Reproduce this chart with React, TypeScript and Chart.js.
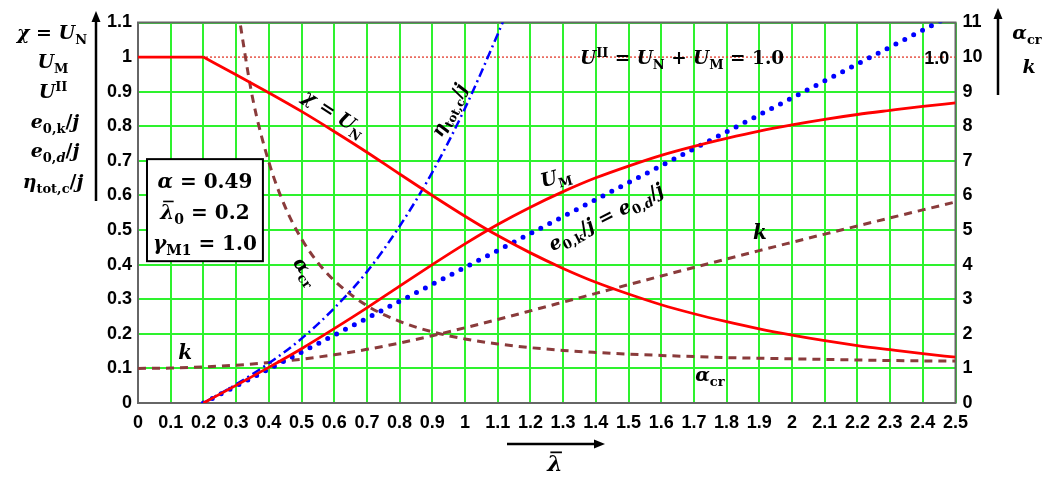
import { useEffect, useRef } from "react";
import { Chart, registerables } from "chart.js";

Chart.register(...registerables);

// Relative slenderness λ̄ sampled every 0.1
const lambda = [0, 0.1, 0.2, 0.3, 0.4, 0.5, 0.6, 0.7, 0.8, 0.9, 1.0, 1.1, 1.2, 1.3, 1.4, 1.5, 1.6, 1.7, 1.8, 1.9, 2.0, 2.1, 2.2, 2.3, 2.4, 2.5];
// χ = U_N (buckling reduction factor)
const chi = [1, 1, 1, 0.949, 0.897, 0.843, 0.785, 0.725, 0.662, 0.6, 0.54, 0.484, 0.434, 0.389, 0.349, 0.315, 0.284, 0.258, 0.235, 0.214, 0.196, 0.18, 0.166, 0.154, 0.1425, 0.1325];
// k amplification factor (right axis)
const kFactor = [1.0, 1.01, 1.042, 1.093, 1.168, 1.267, 1.394, 1.551, 1.735, 1.946, 2.174, 2.415, 2.664, 2.916, 3.169, 3.421, 3.671, 3.919, 4.164, 4.406, 4.645, 4.883, 5.118, 5.351, 5.582, 5.811];

// U_M, from λ̄ = 0.2 onwards
const lambdaM = [0.2, 0.3, 0.4, 0.5, 0.6, 0.7, 0.8, 0.9, 1.0, 1.1, 1.2, 1.3, 1.4, 1.5, 1.6, 1.7, 1.8, 1.9, 2.0, 2.1, 2.2, 2.3, 2.4, 2.5];
const uM = [0, 0.051, 0.103, 0.157, 0.215, 0.275, 0.338, 0.4, 0.46, 0.516, 0.566, 0.611, 0.651, 0.685, 0.716, 0.742, 0.765, 0.786, 0.804, 0.82, 0.834, 0.846, 0.8575, 0.8675];

// η_tot,c / j
const lambdaEta = [0.2, 0.3, 0.4, 0.5, 0.6, 0.7, 0.8, 0.9, 1.0, 1.1, 1.12];
const etaTot = [0, 0.054, 0.115, 0.186, 0.274, 0.379, 0.511, 0.667, 0.852, 1.066, 1.111];

// e0,k / j = e0,d / j
const lambdaE0 = [0.2, 1.0, 2.0, 2.5];
const e0 = [0, 0.392, 0.882, 1.127];

// α_cr (right axis)
const lambdaCr = [0.3, 0.35, 0.4, 0.45, 0.5, 0.55, 0.6, 0.7, 0.8, 0.9, 1.0, 1.1, 1.2, 1.3, 1.4, 1.5, 1.6, 1.7, 1.8, 1.9, 2.0, 2.1, 2.2, 2.3, 2.4, 2.5];
const alphaCr = [11.71, 8.84, 6.97, 5.67, 4.745, 4.06, 3.539, 2.815, 2.36, 2.058, 1.852, 1.708, 1.6, 1.521, 1.462, 1.411, 1.375, 1.341, 1.313, 1.294, 1.276, 1.26, 1.245, 1.228, 1.218, 1.212];

// U^II = U_N + U_M = 1.0
const lambdaUnity = [0, 2.5];
const unity = [1, 1];

const GREEN = "#2ef22e";
const RED = "#ff0000";
const BLUE = "#0000ff";
const BROWN = "#8a3b3b";
const SANS = '"Liberation Sans", Arial, sans-serif';
const SERIF = '"DejaVu Serif", "Liberation Serif", serif';

const pts = (xs: number[], ys: number[]) => xs.map((x, i) => ({ x, y: ys[i] }));
const fmt = (v: number) => String(parseFloat(Number(v).toFixed(2)));

type Seg = { t: string; up?: boolean; sub?: boolean; sup?: boolean; bar?: boolean };

function segFont(s: Seg, size: number) {
  const sz = s.sub || s.sup ? Math.round(size * 0.68) : size;
  return `${s.up ? "" : "italic "}bold ${sz}px ${SERIF}`;
}

function drawRich(
  ctx: CanvasRenderingContext2D,
  segs: Seg[],
  x: number,
  y: number,
  size: number,
  angle = 0,
  color = "#000"
) {
  ctx.save();
  ctx.translate(x, y);
  ctx.rotate((angle * Math.PI) / 180);
  ctx.fillStyle = color;
  ctx.strokeStyle = color;
  ctx.textAlign = "left";
  ctx.textBaseline = "alphabetic";
  const widths = segs.map((s) => {
    ctx.font = segFont(s, size);
    return ctx.measureText(s.t).width;
  });
  const total = widths.reduce((a, b) => a + b, 0);
  let cx = -total / 2;
  const base = size * 0.33;
  segs.forEach((s, i) => {
    ctx.font = segFont(s, size);
    const dy = s.sub ? size * 0.26 : s.sup ? -size * 0.38 : 0;
    ctx.fillText(s.t, cx, base + dy);
    if (s.bar) {
      ctx.lineWidth = Math.max(1.5, size * 0.08);
      ctx.beginPath();
      ctx.moveTo(cx + widths[i] * 0.2, base - size * 0.86);
      ctx.lineTo(cx + widths[i] * 0.95, base - size * 0.86);
      ctx.stroke();
    }
    cx += widths[i];
  });
  ctx.restore();
}

function arrow(ctx: CanvasRenderingContext2D, x1: number, y1: number, x2: number, y2: number) {
  const a = Math.atan2(y2 - y1, x2 - x1);
  const head = 11;
  ctx.save();
  ctx.strokeStyle = "#000";
  ctx.fillStyle = "#000";
  ctx.lineWidth = 2.5;
  ctx.beginPath();
  ctx.moveTo(x1, y1);
  ctx.lineTo(x2 - Math.cos(a) * head * 0.8, y2 - Math.sin(a) * head * 0.8);
  ctx.stroke();
  ctx.beginPath();
  ctx.moveTo(x2, y2);
  ctx.lineTo(x2 - head * Math.cos(a) + 4.5 * Math.sin(a), y2 - head * Math.sin(a) - 4.5 * Math.cos(a));
  ctx.lineTo(x2 - head * Math.cos(a) - 4.5 * Math.sin(a), y2 - head * Math.sin(a) + 4.5 * Math.cos(a));
  ctx.closePath();
  ctx.fill();
  ctx.restore();
}

const annotations = {
  id: "annotations",
  beforeDatasetsDraw(chart: any) {
    const { ctx, chartArea: a } = chart;
    ctx.save();
    ctx.strokeStyle = "#666";
    ctx.lineWidth = 2;
    ctx.strokeRect(a.left, a.top, a.right - a.left, a.bottom - a.top);
    ctx.restore();
  },
  afterDatasetsDraw(chart: any) {
    const { ctx } = chart;
    const xs = chart.scales.x;
    const ys = chart.scales.y;
    const px = (v: number) => xs.getPixelForValue(v);
    const py = (v: number) => ys.getPixelForValue(v);

    // curve labels
    drawRich(ctx, [{ t: "χ" }, { t: " = ", up: true }, { t: "U" }, { t: "N", up: true, sub: true }], px(0.6), py(0.838), 19, 33);
    drawRich(ctx, [{ t: "η" }, { t: "tot,c", up: true, sub: true }, { t: "/", up: true }, { t: "j" }], px(0.951), py(0.847), 18, -63);
    drawRich(ctx, [{ t: "U" }, { t: "M", up: true, sub: true }], px(1.278), py(0.653), 19, -15);
    drawRich(
      ctx,
      [
        { t: "e" }, { t: "0,k", up: true, sub: true }, { t: "/", up: true }, { t: "j" },
        { t: " = ", up: true },
        { t: "e" }, { t: "0,", up: true, sub: true }, { t: "d", sub: true }, { t: "/", up: true }, { t: "j" },
      ],
      px(1.431), py(0.538), 19, -27
    );
    drawRich(
      ctx,
      [
        { t: "U" }, { t: "II", up: true, sup: true }, { t: " = ", up: true },
        { t: "U" }, { t: "N", up: true, sub: true }, { t: " + ", up: true },
        { t: "U" }, { t: "M", up: true, sub: true }, { t: " = 1.0", up: true },
      ],
      px(1.664), py(0.997), 18.5
    );
    ctx.save();
    ctx.font = `bold 18px ${SANS}`;
    ctx.fillStyle = "#000";
    ctx.textAlign = "center";
    ctx.textBaseline = "middle";
    ctx.fillText("1.0", px(2.443), py(0.997) + 1);
    ctx.restore();
    drawRich(ctx, [{ t: "k" }], px(1.902), py(0.494), 20);
    drawRich(ctx, [{ t: "k" }], px(0.144), py(0.147), 20);
    drawRich(ctx, [{ t: "α" }, { t: "cr", up: true, sub: true }], px(0.514), py(0.381), 19, 55);
    drawRich(ctx, [{ t: "α" }, { t: "cr", up: true, sub: true }], px(1.749), py(0.081), 19);

    // parameter box
    const bx1 = px(0.0275), bx2 = px(0.382), by1 = py(0.705), by2 = py(0.41);
    ctx.save();
    ctx.fillStyle = "#fff";
    ctx.fillRect(bx1, by1, bx2 - bx1, by2 - by1);
    ctx.strokeStyle = "#000";
    ctx.lineWidth = 2;
    ctx.strokeRect(bx1, by1, bx2 - bx1, by2 - by1);
    ctx.restore();
    const bc = (bx1 + bx2) / 2;
    drawRich(ctx, [{ t: "α" }, { t: " = 0.49", up: true }], bc, py(0.642), 20);
    drawRich(ctx, [{ t: "λ", bar: true }, { t: "0", up: true, sub: true }, { t: " = 0.2", up: true }], bc, py(0.552), 20);
    drawRich(ctx, [{ t: "γ" }, { t: "M1", up: true, sub: true }, { t: " = 1.0", up: true }], bc, py(0.462), 20);
  },
  afterDraw(chart: any) {
    const { ctx } = chart;
    // left axis title
    const L = 19;
    drawRich(ctx, [{ t: "χ" }, { t: " = ", up: true }, { t: "U" }, { t: "N", up: true, sub: true }], 52, 33, L);
    drawRich(ctx, [{ t: "U" }, { t: "M", up: true, sub: true }], 53, 62, L);
    drawRich(ctx, [{ t: "U" }, { t: "II", up: true, sup: true }], 53, 92, L);
    drawRich(ctx, [{ t: "e" }, { t: "0,k", up: true, sub: true }, { t: "/", up: true }, { t: "j" }], 55, 122, L);
    drawRich(ctx, [{ t: "e" }, { t: "0,", up: true, sub: true }, { t: "d", sub: true }, { t: "/", up: true }, { t: "j" }], 55, 151, L);
    drawRich(ctx, [{ t: "η" }, { t: "tot,c", up: true, sub: true }, { t: "/", up: true }, { t: "j" }], 53, 182, L);
    arrow(ctx, 96, 201, 96, 11);
    // right axis title
    drawRich(ctx, [{ t: "α" }, { t: "cr", up: true, sub: true }], 1027, 33, L);
    drawRich(ctx, [{ t: "k" }], 1029, 67, L);
    arrow(ctx, 998, 95, 998, 8);
    // x axis title
    arrow(ctx, 507, 444, 605, 444);
    drawRich(ctx, [{ t: "λ", bar: true }], 555, 464, 22);
  },
};

export default function App() {
  const ref = useRef<HTMLCanvasElement | null>(null);

  useEffect(() => {
    if (!ref.current) return;
    const tickFont = { family: SANS, weight: "bold" as const, size: 18 };
    const chart = new Chart(ref.current, {
      type: "line",
      data: {
        datasets: [
          {
            label: "χ = U_N (plateau)",
            data: pts(lambda.slice(0, 3), chi.slice(0, 3)),
            borderColor: RED,
            borderWidth: 2.8,
            yAxisID: "y",
          },
          {
            label: "χ = U_N",
            data: pts(lambda.slice(2), chi.slice(2)),
            borderColor: RED,
            borderWidth: 2.8,
            cubicInterpolationMode: "monotone",
            yAxisID: "y",
          },
          {
            label: "U_M",
            data: pts(lambdaM, uM),
            borderColor: RED,
            borderWidth: 2.8,
            cubicInterpolationMode: "monotone",
            yAxisID: "y",
          },
          {
            label: "e0/j",
            data: pts(lambdaE0, e0),
            borderColor: BLUE,
            borderWidth: 5,
            borderDash: [0, 10],
            borderCapStyle: "round",
            yAxisID: "y",
          },
          {
            label: "η_tot,c/j",
            data: pts(lambdaEta, etaTot),
            borderColor: BLUE,
            borderWidth: 2.5,
            borderDash: [9, 4, 2, 4],
            cubicInterpolationMode: "monotone",
            yAxisID: "y",
          },
          {
            label: "α_cr",
            data: pts(lambdaCr, alphaCr),
            borderColor: BROWN,
            borderWidth: 3,
            borderDash: [8, 6],
            cubicInterpolationMode: "monotone",
            yAxisID: "y2",
          },
          {
            label: "k",
            data: pts(lambda, kFactor),
            borderColor: BROWN,
            borderWidth: 3,
            borderDash: [8, 6],
            cubicInterpolationMode: "monotone",
            yAxisID: "y2",
          },
          {
            label: "U^II",
            data: pts(lambdaUnity, unity),
            borderColor: "#e23a2a",
            borderWidth: 1.3,
            borderDash: [2, 2],
            yAxisID: "y",
          },
        ],
      },
      options: {
        animation: false,
        responsive: false,
        layout: { padding: { top: 22.5, left: 0, right: 0, bottom: 0 } },
        elements: { point: { radius: 0 } },
        plugins: { legend: { display: false }, tooltip: { enabled: false } },
        scales: {
          x: {
            type: "linear",
            min: 0,
            max: 2.5,
            afterFit: (s: any) => {
              s.height = 75;
            },
            ticks: {
              stepSize: 0.1,
              autoSkip: false,
              maxRotation: 0,
              padding: 9,
              color: "#000",
              font: tickFont,
              callback: (v: any) => fmt(v),
            },
            grid: { color: GREEN, lineWidth: 2, drawTicks: false },
            border: { display: false },
          },
          y: {
            type: "linear",
            position: "left",
            min: 0,
            max: 1.1,
            afterFit: (s: any) => {
              s.width = 138;
            },
            ticks: {
              stepSize: 0.1,
              padding: 6,
              color: "#000",
              font: tickFont,
              callback: (v: any) => fmt(v),
            },
            grid: {
              color: (c: any) => (Math.abs(c.tick.value - 1) < 1e-6 ? "rgba(0,0,0,0)" : GREEN),
              lineWidth: 2,
              drawTicks: false,
            },
            border: { display: false },
          },
          y2: {
            type: "linear",
            position: "right",
            min: 0,
            max: 11,
            afterFit: (s: any) => {
              s.width = 102.5;
            },
            ticks: {
              stepSize: 1,
              padding: 7,
              color: "#000",
              font: tickFont,
              callback: (v: any) => fmt(v),
            },
            grid: { display: false, drawTicks: false },
            border: { display: false },
          },
        },
      },
      plugins: [annotations],
    } as any);
    return () => chart.destroy();
  }, []);

  return (
    <div style={{ position: "absolute", left: 0, top: 0, width: 1058, height: 478, background: "#fff" }}>
      <canvas ref={ref} width={1058} height={478} style={{ display: "block" }} />
    </div>
  );
}
